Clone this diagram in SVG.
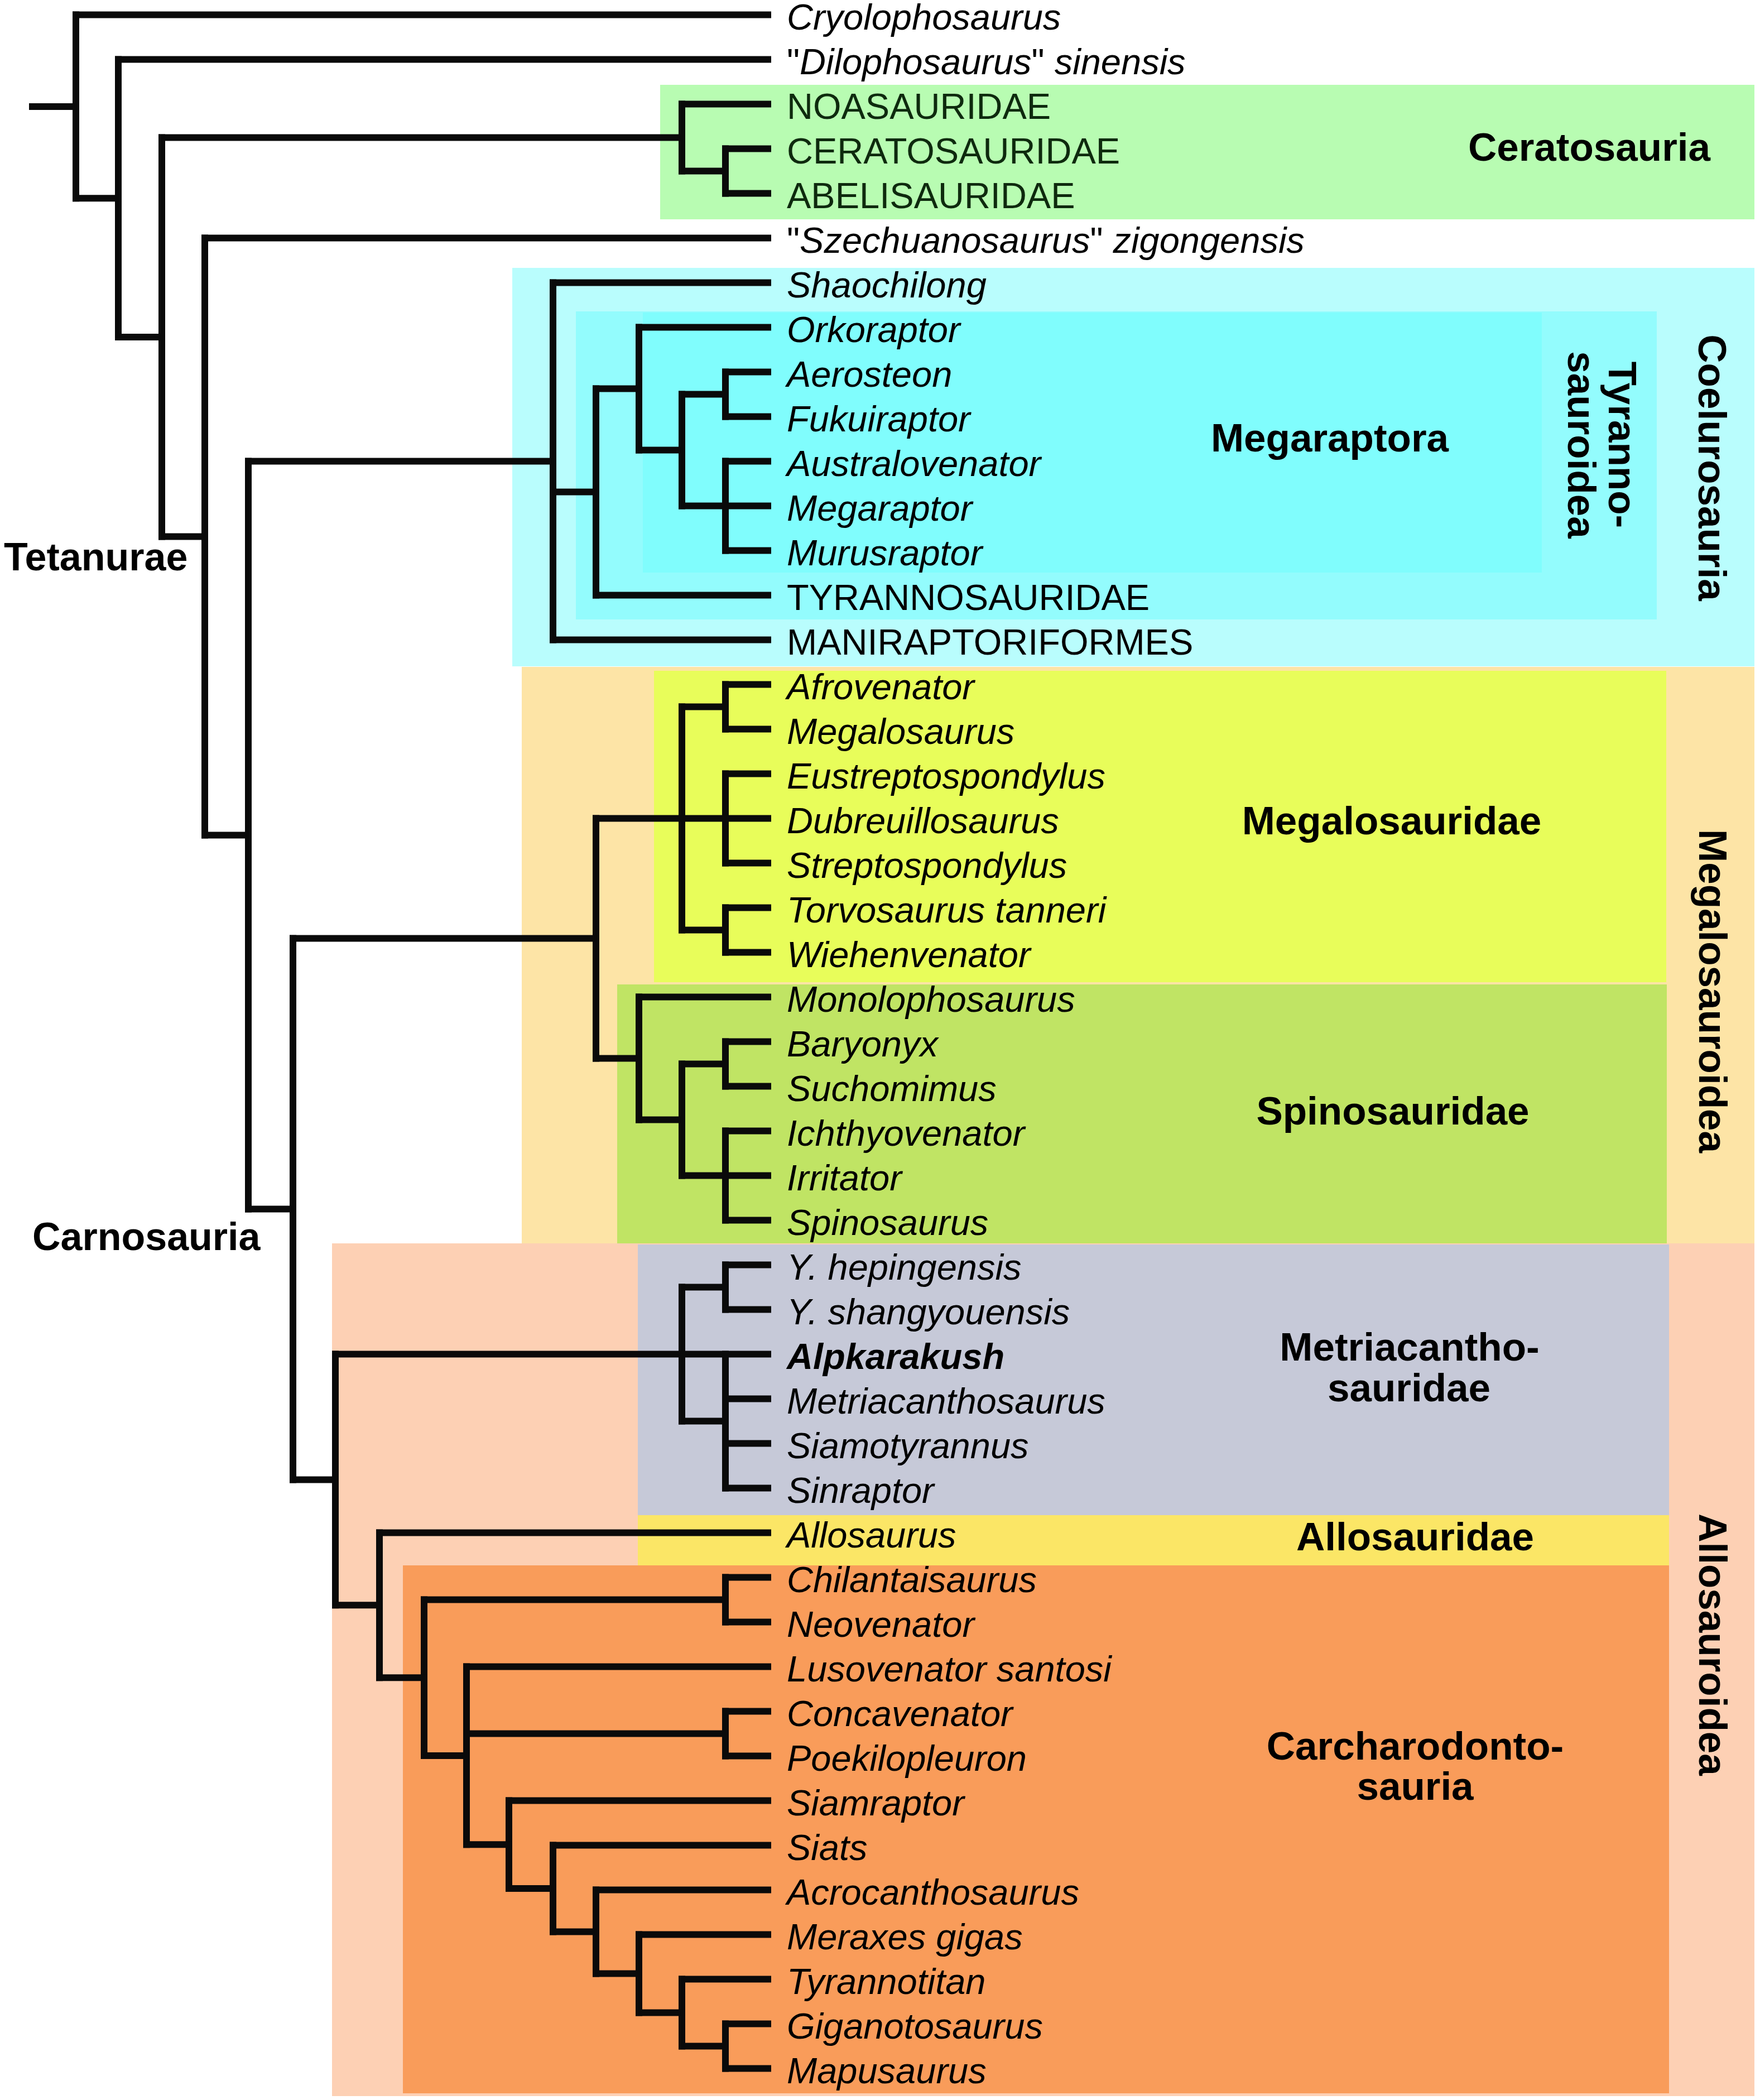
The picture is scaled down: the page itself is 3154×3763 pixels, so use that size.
<svg xmlns="http://www.w3.org/2000/svg" width="3154" height="3763" viewBox="0 0 3154 3763">
<style>
text{font-family:"Liberation Sans",Arial,sans-serif;fill:#000}
.lf{font-size:65px}
.i{font-style:italic}
.bi{font-style:italic;font-weight:bold}
.lb{font-size:71px;font-weight:bold;text-anchor:middle}
.side{font-size:70px;font-weight:bold}
.cg{fill:#0e2a0e}
.br{fill:none;stroke:#0a0a0a;stroke-width:12;stroke-linecap:square}
</style>
<rect width="3154" height="3763" fill="#ffffff"/>
<g id="clades">
<g id="clade-Ceratosauria"><rect x="1183" y="152" width="1961" height="241" fill="#b8fcb2"/><text class="lb" x="2848" y="288">Ceratosauria</text></g>
<g id="clade-Coelurosauria"><rect x="918" y="480" width="2226" height="714" fill="#b9fdfd"/><text class="lb" transform="translate(3044,838) rotate(90)">Coelurosauria</text></g>
<g id="clade-Tyrannosauroidea"><rect x="1032" y="558" width="1937" height="552" fill="#93fcfd"/><text class="lb" transform="translate(2883,797) rotate(90)">Tyranno-</text><text class="lb" transform="translate(2810,797) rotate(90)">sauroidea</text></g>
<g id="clade-Megaraptora"><rect x="1152" y="560" width="1611" height="466" fill="#80fdfd"/><text class="lb" x="2383" y="809">Megaraptora</text></g>
<g id="clade-Megalosauroidea"><rect x="935" y="1195" width="2209" height="1033" fill="#fde4a6"/><text class="lb" transform="translate(3045,1776) rotate(90)">Megalosauroidea</text></g>
<g id="clade-Megalosauridae"><rect x="1172" y="1202" width="1814" height="558" fill="#e8fd5a"/><text class="lb" x="2494" y="1495">Megalosauridae</text></g>
<g id="clade-Spinosauridae"><rect x="1106" y="1764" width="1881" height="466" fill="#c0e464"/><text class="lb" x="2496" y="2015">Spinosauridae</text></g>
<g id="clade-Allosauroidea"><rect x="595" y="2228" width="2549" height="1528" fill="#fdd0b4"/><text class="lb" transform="translate(3045,2947) rotate(90)">Allosauroidea</text></g>
<g id="clade-Metriacanthosauridae"><rect x="1143" y="2230" width="1848" height="485" fill="#c6c9d8"/><text class="lb" x="2526" y="2438">Metriacantho-</text><text class="lb" x="2525" y="2511">sauridae</text></g>
<g id="clade-Allosauridae"><rect x="1143" y="2715" width="1848" height="90" fill="#fbe666"/><text class="lb" x="2536" y="2778">Allosauridae</text></g>
<g id="clade-Carcharodontosauria"><rect x="722" y="2805" width="2269" height="946" fill="#f99c5a"/><text class="lb" x="2536" y="3153">Carcharodonto-</text><text class="lb" x="2536" y="3225">sauria</text></g>
<g id="clade-Tetanurae"><text class="side" x="7" y="1022">Tetanurae</text></g>
<g id="clade-Carnosauria"><text class="side" x="58" y="2240">Carnosauria</text></g>
</g>
<g id="connectors">
<path class="br" d="M136 26.5V355.25M212 106.5V604M290 246.5V961.5M367 426.5V1496.5M445 826.5V2166.5M525 1681.5V2651.4M1222 186.5V306.5M1300 266.5V346.5M991 506.5V1146.5M1068 696.5V1066.5M1145 586.5V806.5M1222 706.5V906.5M1300 666.5V746.5M1300 826.5V986.5M1068 1466.5V1896.5M1222 1266.5V1666.5M1300 1226.5V1306.5M1300 1386.5V1546.5M1300 1626.5V1706.5M1145 1786.5V2006.5M1222 1906.5V2106.5M1300 1866.5V1946.5M1300 2026.5V2186.5M601 2426.5V2876.3M1222 2306.5V2546.5M1300 2266.5V2346.5M1300 2426.5V2666.5M680 2746.5V3006.2M760 2866.5V3145.9M1300 2826.5V2906.5M836 2986.5V3305.25M1300 3066.5V3146.5M912 3226.5V3384M991 3306.5V3461.5M1068 3386.5V3536.5M1145 3466.5V3606.5M1222 3546.5V3666.5M1300 3626.5V3706.5"/>
<path class="br" d="M58 190.9H136M136 26.5H1376M136 355.25H212M212 106.5H1376M212 604H290M290 246.5H1222M1222 186.5H1376M1222 306.5H1300M1300 266.5H1376M1300 346.5H1376M290 961.5H367M367 426.5H1376M367 1496.5H445M445 826.5H991M991 506.5H1376M991 881.5H1068M991 1146.5H1376M1068 696.5H1145M1068 1066.5H1376M1145 586.5H1376M1145 806.5H1222M1222 706.5H1300M1222 906.5H1376M1300 666.5H1376M1300 746.5H1376M1300 826.5H1376M1300 986.5H1376M445 2166.5H525M525 1681.5H1068M1068 1466.5H1376M1222 1266.5H1300M1222 1666.5H1300M1300 1226.5H1376M1300 1306.5H1376M1300 1386.5H1376M1300 1546.5H1376M1300 1626.5H1376M1300 1706.5H1376M1068 1896.5H1145M1145 1786.5H1376M1145 2006.5H1222M1222 1906.5H1300M1222 2106.5H1376M1300 1866.5H1376M1300 1946.5H1376M1300 2026.5H1376M1300 2186.5H1376M525 2651.4H601M601 2426.5H1376M1222 2306.5H1300M1222 2546.5H1300M1300 2266.5H1376M1300 2346.5H1376M1300 2506.5H1376M1300 2586.5H1376M1300 2666.5H1376M601 2876.3H680M680 2746.5H1376M680 3006.2H760M760 2866.5H1300M1300 2826.5H1376M1300 2906.5H1376M760 3145.9H836M836 2986.5H1376M836 3106.5H1300M1300 3066.5H1376M1300 3146.5H1376M836 3305.25H912M912 3226.5H1376M912 3384H991M991 3306.5H1376M991 3461.5H1068M1068 3386.5H1376M1068 3536.5H1145M1145 3466.5H1376M1145 3606.5H1222M1222 3546.5H1376M1222 3666.5H1300M1300 3626.5H1376M1300 3706.5H1376"/>
</g>
<g id="leaves">
<g id="leaf-Cryolophosaurus"><text class="lf i" x="1410" y="52.5">Cryolophosaurus</text></g>
<g id="leaf-Dilophosaurus-sinensis"><text class="lf" x="1410" y="132.5">"<tspan class="i">Dilophosaurus</tspan>" <tspan class="i">sinensis</tspan></text></g>
<g id="leaf-Noasauridae"><text class="lf cg" x="1410" y="212.5">NOASAURIDAE</text></g>
<g id="leaf-Ceratosauridae"><text class="lf cg" x="1410" y="292.5">CERATOSAURIDAE</text></g>
<g id="leaf-Abelisauridae"><text class="lf cg" x="1410" y="372.5">ABELISAURIDAE</text></g>
<g id="leaf-Szechuanosaurus-zigongensis"><text class="lf" x="1410" y="452.5">"<tspan class="i">Szechuanosaurus</tspan>" <tspan class="i">zigongensis</tspan></text></g>
<g id="leaf-Shaochilong"><text class="lf i" x="1410" y="532.5">Shaochilong</text></g>
<g id="leaf-Orkoraptor"><text class="lf i" x="1410" y="612.5">Orkoraptor</text></g>
<g id="leaf-Aerosteon"><text class="lf i" x="1410" y="692.5">Aerosteon</text></g>
<g id="leaf-Fukuiraptor"><text class="lf i" x="1410" y="772.5">Fukuiraptor</text></g>
<g id="leaf-Australovenator"><text class="lf i" x="1410" y="852.5">Australovenator</text></g>
<g id="leaf-Megaraptor"><text class="lf i" x="1410" y="932.5">Megaraptor</text></g>
<g id="leaf-Murusraptor"><text class="lf i" x="1410" y="1012.5">Murusraptor</text></g>
<g id="leaf-Tyrannosauridae"><text class="lf" x="1410" y="1092.5">TYRANNOSAURIDAE</text></g>
<g id="leaf-Maniraptoriformes"><text class="lf" x="1410" y="1172.5">MANIRAPTORIFORMES</text></g>
<g id="leaf-Afrovenator"><text class="lf i" x="1410" y="1252.5">Afrovenator</text></g>
<g id="leaf-Megalosaurus"><text class="lf i" x="1410" y="1332.5">Megalosaurus</text></g>
<g id="leaf-Eustreptospondylus"><text class="lf i" x="1410" y="1412.5">Eustreptospondylus</text></g>
<g id="leaf-Dubreuillosaurus"><text class="lf i" x="1410" y="1492.5">Dubreuillosaurus</text></g>
<g id="leaf-Streptospondylus"><text class="lf i" x="1410" y="1572.5">Streptospondylus</text></g>
<g id="leaf-Torvosaurus-tanneri"><text class="lf i" x="1410" y="1652.5">Torvosaurus tanneri</text></g>
<g id="leaf-Wiehenvenator"><text class="lf i" x="1410" y="1732.5">Wiehenvenator</text></g>
<g id="leaf-Monolophosaurus"><text class="lf i" x="1410" y="1812.5">Monolophosaurus</text></g>
<g id="leaf-Baryonyx"><text class="lf i" x="1410" y="1892.5">Baryonyx</text></g>
<g id="leaf-Suchomimus"><text class="lf i" x="1410" y="1972.5">Suchomimus</text></g>
<g id="leaf-Ichthyovenator"><text class="lf i" x="1410" y="2052.5">Ichthyovenator</text></g>
<g id="leaf-Irritator"><text class="lf i" x="1410" y="2132.5">Irritator</text></g>
<g id="leaf-Spinosaurus"><text class="lf i" x="1410" y="2212.5">Spinosaurus</text></g>
<g id="leaf-Y-hepingensis"><text class="lf i" x="1410" y="2292.5">Y. hepingensis</text></g>
<g id="leaf-Y-shangyouensis"><text class="lf i" x="1410" y="2372.5">Y. shangyouensis</text></g>
<g id="leaf-Alpkarakush"><text class="lf bi" x="1410" y="2452.5">Alpkarakush</text></g>
<g id="leaf-Metriacanthosaurus"><text class="lf i" x="1410" y="2532.5">Metriacanthosaurus</text></g>
<g id="leaf-Siamotyrannus"><text class="lf i" x="1410" y="2612.5">Siamotyrannus</text></g>
<g id="leaf-Sinraptor"><text class="lf i" x="1410" y="2692.5">Sinraptor</text></g>
<g id="leaf-Allosaurus"><text class="lf i" x="1410" y="2772.5">Allosaurus</text></g>
<g id="leaf-Chilantaisaurus"><text class="lf i" x="1410" y="2852.5">Chilantaisaurus</text></g>
<g id="leaf-Neovenator"><text class="lf i" x="1410" y="2932.5">Neovenator</text></g>
<g id="leaf-Lusovenator-santosi"><text class="lf i" x="1410" y="3012.5">Lusovenator santosi</text></g>
<g id="leaf-Concavenator"><text class="lf i" x="1410" y="3092.5">Concavenator</text></g>
<g id="leaf-Poekilopleuron"><text class="lf i" x="1410" y="3172.5">Poekilopleuron</text></g>
<g id="leaf-Siamraptor"><text class="lf i" x="1410" y="3252.5">Siamraptor</text></g>
<g id="leaf-Siats"><text class="lf i" x="1410" y="3332.5">Siats</text></g>
<g id="leaf-Acrocanthosaurus"><text class="lf i" x="1410" y="3412.5">Acrocanthosaurus</text></g>
<g id="leaf-Meraxes-gigas"><text class="lf i" x="1410" y="3492.5">Meraxes gigas</text></g>
<g id="leaf-Tyrannotitan"><text class="lf i" x="1410" y="3572.5">Tyrannotitan</text></g>
<g id="leaf-Giganotosaurus"><text class="lf i" x="1410" y="3652.5">Giganotosaurus</text></g>
<g id="leaf-Mapusaurus"><text class="lf i" x="1410" y="3732.5">Mapusaurus</text></g>
</g>
</svg>
